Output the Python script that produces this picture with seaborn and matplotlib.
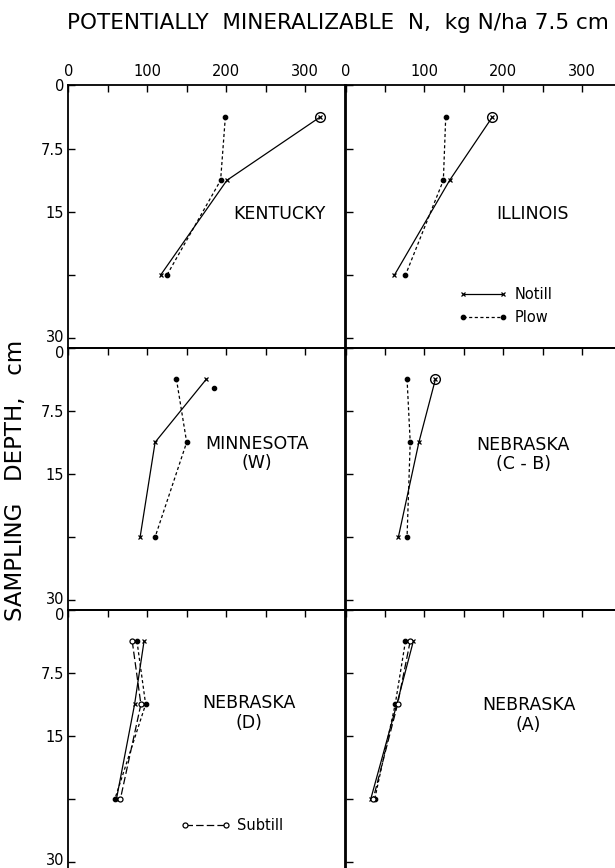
import numpy as np
import pandas as pd
import seaborn as sns
import matplotlib.pyplot as plt
from matplotlib.lines import Line2D
from matplotlib.transforms import ScaledTranslation

sns.set_style("white")
plt.rcParams['font.family'] = ['DejaVu Sans']
plt.rcParams['text.color'] = 'black'
plt.rcParams['xtick.color'] = 'black'
plt.rcParams['ytick.color'] = 'black'

# sampling depth midpoints, cm
depths = [3.75, 11.25, 22.5]

panels = ["KENTUCKY", "ILLINOIS", "MINNESOTA\n(W)", "NEBRASKA\n(C - B)", "NEBRASKA\n(D)", "NEBRASKA\n(A)"]

notill = [
    [319, 201, 117],
    [186, 132, 62],
    [175, 110, 91],
    [114, 93, 67],
    [96, 84, 61],
    [86, 65, 32],
]
plow = [
    [199, 193, 125],
    [127, 124, 76],
    [137, 150, 110],
    [78, 82, 78],
    [87, 98, 59],
    [76, 63, 37],
]
subtill = [None, None, None, None, [81, 92, 66], [82, 66, 35]]

# circled top point (notill) in some panels
circled = [True, True, False, True, False, False]
# extra plotted dot in Minnesota panel
extra_x = [None, None, 185, None, None, None]
extra_y = [None, None, 4.8, None, None, None]

label_pos = [(267, 15.2), (237, 15.2), (239, 12.6), (225, 12.7), (229, 12.3), (232, 12.5)]

x_ticks = [0, 50, 100, 150, 200, 250, 300, 350]
x_labels = ["0", "", "100", "", "200", "", "300", ""]
y_ticks = [0, 7.5, 15, 22.5, 30]
y_labels = ["0", "7.5", "15", "", "30"]

fig = plt.figure(figsize=(6.15, 8.68), dpi=100)

col_x = [68.3 / 615, 345.5 / 615]
col_w = 276.2 / 615
row_top = [85.5, 347.5, 609.5]
row_h = 262

line_kw = dict(color="black", lw=0.9, mec="black", mfc="black", mew=0.9)

for i in range(6):
    r, c = divmod(i, 2)
    y0 = (868 - row_top[r] - row_h) / 868
    ax = fig.add_axes([col_x[c], y0, col_w, row_h / 868])

    sns.lineplot(x=notill[i], y=depths, ax=ax, sort=False, estimator=None,
                 marker="x", ms=3.5, **line_kw)
    sns.lineplot(x=plow[i], y=depths, ax=ax, sort=False, estimator=None,
                 linestyle=(0, (2.5, 2)), marker="o", ms=3.2, **line_kw)
    if subtill[i] is not None:
        sub_kw = dict(line_kw, mfc="white")
        sns.lineplot(x=subtill[i], y=depths, ax=ax, sort=False, estimator=None,
                     linestyle=(0, (6, 2.5)), marker="o", ms=3.6, **sub_kw)
    if circled[i]:
        ax.plot(notill[i][0], depths[0], marker="o", ms=7, mfc="none", mec="black", mew=1.0)
    if extra_x[i] is not None:
        ax.plot(extra_x[i], extra_y[i], marker="o", ms=3, color="black")

    ax.text(label_pos[i][0], label_pos[i][1], panels[i], ha="center", va="center",
            fontsize=12.5, linespacing=1.1)

    ax.set_xlim(0, 350)
    ax.set_ylim(31.1, 0)
    ax.set_xticks(x_ticks)
    ax.set_yticks(y_ticks)
    ax.xaxis.tick_top()
    if r == 0:
        ax.set_xticklabels(x_labels)
    else:
        ax.set_xticklabels([])
    if c == 0:
        ax.set_yticklabels(y_labels)
    else:
        ax.set_yticklabels([])
    ax.tick_params(direction="in", length=5, width=1.0, labelsize=10.5,
                   top=True, bottom=False, left=True, right=False)
    ax.tick_params(axis="x", pad=4.5)
    ax.tick_params(axis="y", pad=3)
    ax.set_xlabel("")
    ax.set_ylabel("")
    for s in ax.spines.values():
        s.set_linewidth(1.3)
        s.set_color("black")
    ax.patch.set_alpha(0)

    # keep the stacked "30" / "0" labels apart at the panel joins
    if c == 0:
        ylabs = ax.get_yticklabels()
        if r > 0:
            ylabs[0].set_transform(ylabs[0].get_transform()
                                   + ScaledTranslation(0, -4 / 100, fig.dpi_scale_trans))
        if r < 2:
            ylabs[4].set_transform(ylabs[4].get_transform()
                                   + ScaledTranslation(0, 2 / 100, fig.dpi_scale_trans))
        else:
            ylabs[4].set_transform(ylabs[4].get_transform()
                                   + ScaledTranslation(0, 3 / 100, fig.dpi_scale_trans))

    if i == 1:
        h1 = Line2D([], [], marker="x", ms=3.5, **line_kw)
        h2 = Line2D([], [], linestyle=(0, (2.5, 2)), marker="o", ms=3.2, **line_kw)
        ax.legend([h1, h2], ["Notill", "Plow"], numpoints=2, frameon=False,
                  handlelength=3.3, fontsize=10.5, loc="center left",
                  bbox_to_anchor=(0.39, 0.158), labelspacing=0.55, handletextpad=0.5,
                  borderaxespad=0)
    if i == 4:
        h3 = Line2D([], [], linestyle=(0, (6, 2.5)), marker="o", ms=3.6,
                    **dict(line_kw, mfc="white"))
        ax.legend([h3], ["Subtill"], numpoints=2, frameon=False, handlelength=3.4,
                  fontsize=10.5, loc="center left", bbox_to_anchor=(0.385, 0.175),
                  handletextpad=0.5, borderaxespad=0)

fig.text(338 / 615, 1 - 23 / 868, "POTENTIALLY  MINERALIZABLE  N,  kg N/ha 7.5 cm",
         ha="center", va="center", fontsize=15.5)
fig.text(16 / 615, 1 - 480 / 868, "SAMPLING   DEPTH,   cm", rotation=90,
         ha="center", va="center", fontsize=16.5)

fig.savefig("out.png", dpi=100)
